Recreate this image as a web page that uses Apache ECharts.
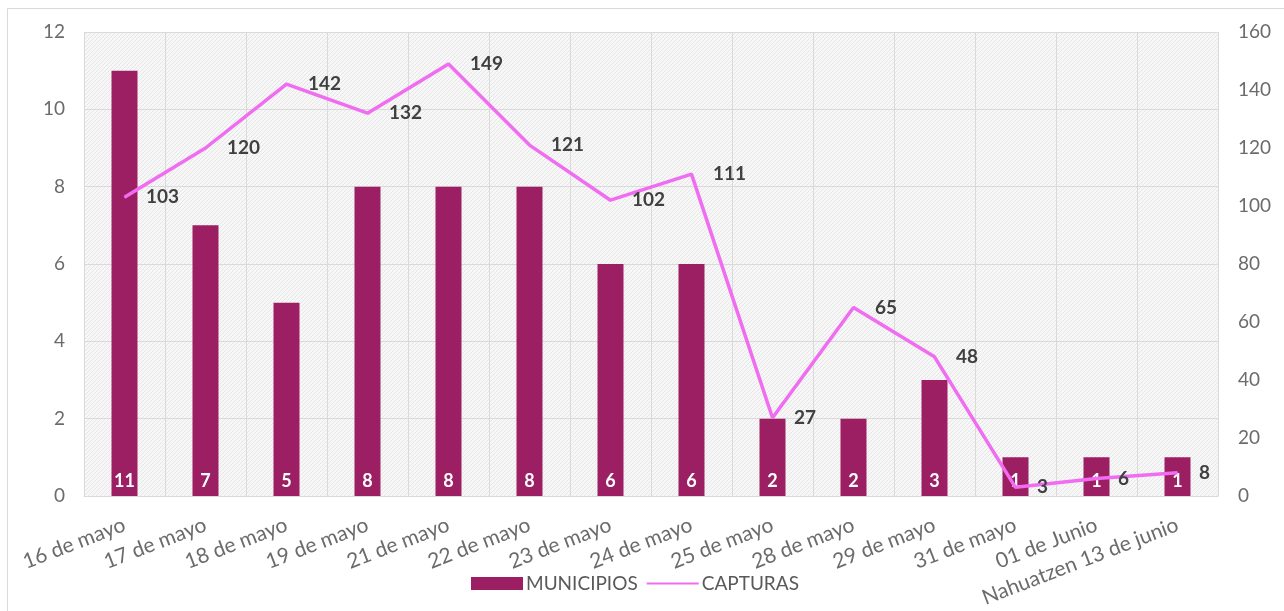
<!DOCTYPE html>
<html><head><meta charset="utf-8">
<script src="https://cdn.jsdelivr.net/npm/echarts@6/dist/echarts.min.js"></script>
<style>html,body{margin:0;padding:0;background:#fff}#c{width:1284px;height:611px}</style>
</head><body><div id="c"></div>
<script>
const categories = ['16 de mayo','17 de mayo','18 de mayo','19 de mayo','21 de mayo','22 de mayo','23 de mayo','24 de mayo','25 de mayo','28 de mayo','29 de mayo','31 de mayo','01 de Junio','Nahuatzen 13 de junio'];
const municipios = [11,7,5,8,8,8,6,6,2,2,3,1,1,1];
const capturas = [103,120,142,132,149,121,102,111,27,65,48,3,6,8];

const pc = document.createElement('canvas');
pc.width = 4; pc.height = 4;
const g = pc.getContext('2d');
g.fillStyle = '#f7f7f7'; g.fillRect(0,0,4,4);
g.strokeStyle = '#e6e6e6'; g.lineWidth = 1;
g.beginPath(); g.moveTo(0,4); g.lineTo(4,0); g.stroke();
g.beginPath(); g.moveTo(-1,1); g.lineTo(1,-1); g.stroke();
g.beginPath(); g.moveTo(3,5); g.lineTo(5,3); g.stroke();

const font = 'Lato, "Open Sans", sans-serif';
const chart = echarts.init(document.getElementById('c'));
chart.setOption({
  animation: false,
  backgroundColor: '#fff',
  graphic: [{type:'rect', shape:{x:7.5,y:8.5,width:1290,height:640}, style:{fill:'none', stroke:'#d9d9d9', lineWidth:1}, silent:true}],
  grid: {left:84, right:66, top:32, bottom:115, show:true, backgroundColor:{image:pc, repeat:'repeat'}, borderWidth:0},
  legend: {
    top: 569, left: 466, itemGap: 8,
    textStyle: {fontFamily: font, fontSize: 19, color: '#595959', padding:[0,0,0,-2]},
    data: [{name:'MUNICIPIOS', icon:'rect'}, {name:'CAPTURAS', itemStyle:{opacity:0}}],
    itemWidth: 52, itemHeight: 13
  },
  xAxis: {
    type: 'category', data: categories,
    axisLine: {lineStyle:{color:'#d9d9d9'}},
    axisTick: {show:false},
    splitLine: {show:true, lineStyle:{color:'#dadada'}},
    axisLabel: {rotate: 21, interval:0, fontFamily: font, fontSize: 21, color:'#6b6b6b', margin: 28}
  },
  yAxis: [{
    type:'value', min:0, max:12, interval:2,
    axisLabel:{fontFamily:font, fontSize:19, color:'#6b6b6b', margin:19},
    splitLine:{lineStyle:{color:'#dadada'}},
    axisLine:{show:false}
  },{
    type:'value', min:0, max:160, interval:20, position:'right',
    axisLabel:{fontFamily:font, fontSize:19, color:'#6b6b6b', margin:20},
    splitLine:{show:false}, axisLine:{show:false}
  }],
  series: [{
    name:'MUNICIPIOS', type:'bar', data: municipios, barWidth: 26,
    itemStyle:{color:'#9b1f62'},
    label:{show:true, position:'insideBottom', distance:6, color:'#fff', fontWeight:'bold', fontFamily:font, fontSize:18}
  },{
    name:'CAPTURAS', type:'line', yAxisIndex:1, data: capturas,
    showSymbol:true, symbol:'circle', symbolSize:1,
    lineStyle:{color:'#f06cf0', width:3.5}, itemStyle:{color:'#f06cf0'},
    label:{show:true, position:'right', distance:21, color:'#404040', fontWeight:'bold', fontFamily:font, fontSize:19}
  }]
});
</script></body></html>
